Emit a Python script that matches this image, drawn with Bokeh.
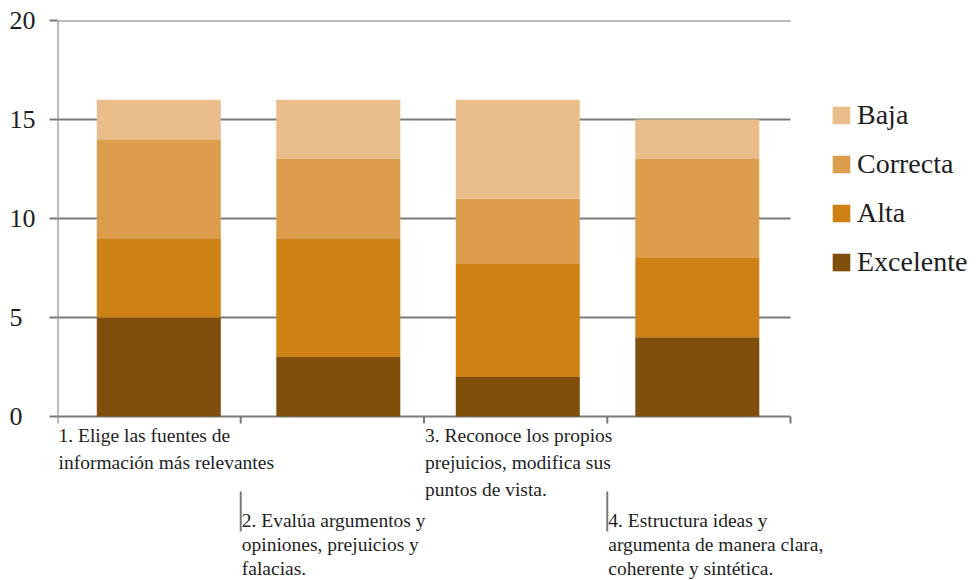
from bokeh.plotting import figure
from bokeh.models import ColumnDataSource, FixedTicker, Legend, LegendItem, Range1d
from bokeh.core.properties import value
from bokeh.embed import file_html
from bokeh.resources import INLINE

# ---- data ----
categories = ["1", "2", "3", "4"]
series = ["Excelente", "Alta", "Correcta", "Baja"]
excelente = [5, 3, 2, 4]
alta = [4, 6, 5.7, 4]
correcta = [5, 4, 3.3, 5]
baja = [2, 3, 5, 2]
y_ticks = [0, 5, 10, 15, 20]
category_labels = [
    ["1. Elige las fuentes de", "información más relevantes"],
    ["2. Evalúa argumentos y", "opiniones, prejuicios y", "falacias."],
    ["3. Reconoce los propios", "prejuicios, modifica sus", "puntos de vista."],
    ["4. Estructura ideas y", "argumenta de manera clara,", "coherente y sintética."],
]

# ---- layout / styles ----
colors = ["#7F4F0B", "#CE8115", "#DC9D4D", "#EABE8A"]
FONT = "Liberation Serif"
GRAY = "#7a7a7a"
TEXT = "#1e1e1e"

W, H = 976, 580
LEFT, TOP = 57, 20            # frame origin (px)
CHART_W, CHART_H = 733, 396   # size of the value area (px)
n = len(categories)
ux = CHART_W / n              # px per category (axis ticks)
uy = CHART_H / 20.0           # px per value unit
frame_w, frame_h = W - LEFT, H - TOP
x_end = frame_w / ux
y_start = 20 - frame_h / uy

# bar slots are slightly narrower than the axis categories and start a bit inside
BAR_STEP = 179.5              # px between bar centres
BAR_FIRST = 101.3             # px from axis to first bar centre
BAR_W = 124                   # px
bs = 0.5 - BAR_FIRST / BAR_STEP

src = ColumnDataSource(dict(
    x=[i + 0.5 for i in range(n)],
    Excelente=excelente, Alta=alta, Correcta=correcta, Baja=baja,
))

p = figure(width=W, height=H, x_range=Range1d(0, x_end), y_range=Range1d(y_start, 20),
           x_axis_location=None, output_backend="svg", toolbar_location=None,
           min_border_left=LEFT, min_border_right=0, min_border_top=TOP, min_border_bottom=0)
p.extra_x_ranges = {"bars": Range1d(bs, bs + frame_w / BAR_STEP)}
p.outline_line_color = None
p.xgrid.visible = False
p.ygrid.visible = False

# grid lines and axis lines limited to the value area
grid_src = ColumnDataSource(dict(y=y_ticks, x0=[0] * len(y_ticks), x1=[n] * len(y_ticks)))
p.segment(x0="x0", y0="y", x1="x1", y1="y", source=grid_src, line_color=GRAY, line_width=2)
p.segment(x0=[0], y0=[0], x1=[0], y1=[20], line_color=GRAY, line_width=2)
xt = list(range(n + 1))
p.segment(x0=xt, y0=[0] * len(xt), x1=xt, y1=[-7 / uy] * len(xt), line_color=GRAY, line_width=2)

renderers = p.vbar_stack(series, x="x", width=BAR_W / BAR_STEP, fill_color=colors, line_color=None,
                         source=src, x_range_name="bars")

# y axis (labels + ticks)
ya = p.yaxis[0]
ya.ticker = FixedTicker(ticks=y_ticks)
ya.major_label_overrides = {0: "0\u2002", 5: "5\u2002"}
ya.major_label_text_font = FONT
ya.major_label_text_font_size = "26px"
ya.major_label_text_color = TEXT
ya.axis_line_color = None
ya.major_tick_line_color = GRAY
ya.major_tick_line_width = 2
ya.major_tick_out = 8
ya.major_tick_in = 0
ya.minor_tick_line_color = None
ya.major_label_standoff = 14

# category labels (staggered tiers)
tier_first = [19, 104]   # baseline of first line, px below the axis
tier_step = [27, 24]
tx, ty, tt = [], [], []
for i, lines in enumerate(category_labels):
    tier = i % 2
    for j, line in enumerate(lines):
        tx.append(i)
        ty.append(-(tier_first[tier] + j * tier_step[tier]) / uy)
        tt.append(line)
p.text(x=tx, y=ty, text=tt, x_offset=1, text_font=value(FONT), text_font_size="19.5px",
       text_color=TEXT, text_baseline="alphabetic", text_align="left")
lx = [i for i in range(n) if i % 2 == 1]
p.segment(x0=lx, y0=[-75 / uy] * len(lx), x1=lx, y1=[-115 / uy] * len(lx),
          line_color=GRAY, line_width=2)

# legend (reverse order), placed right of the value area
items = [LegendItem(label=series[k], renderers=[renderers[k]]) for k in reversed(range(len(series)))]
legend = Legend(items=items, location=(773, 302), glyph_width=22, glyph_height=22,
                label_standoff=5, spacing=17, padding=0, margin=0,
                border_line_color=None, background_fill_alpha=0,
                label_text_font=FONT, label_text_font_size="28px", label_text_color=TEXT)
p.add_layout(legend)

open("out.html", "w").write(file_html(p, INLINE))
